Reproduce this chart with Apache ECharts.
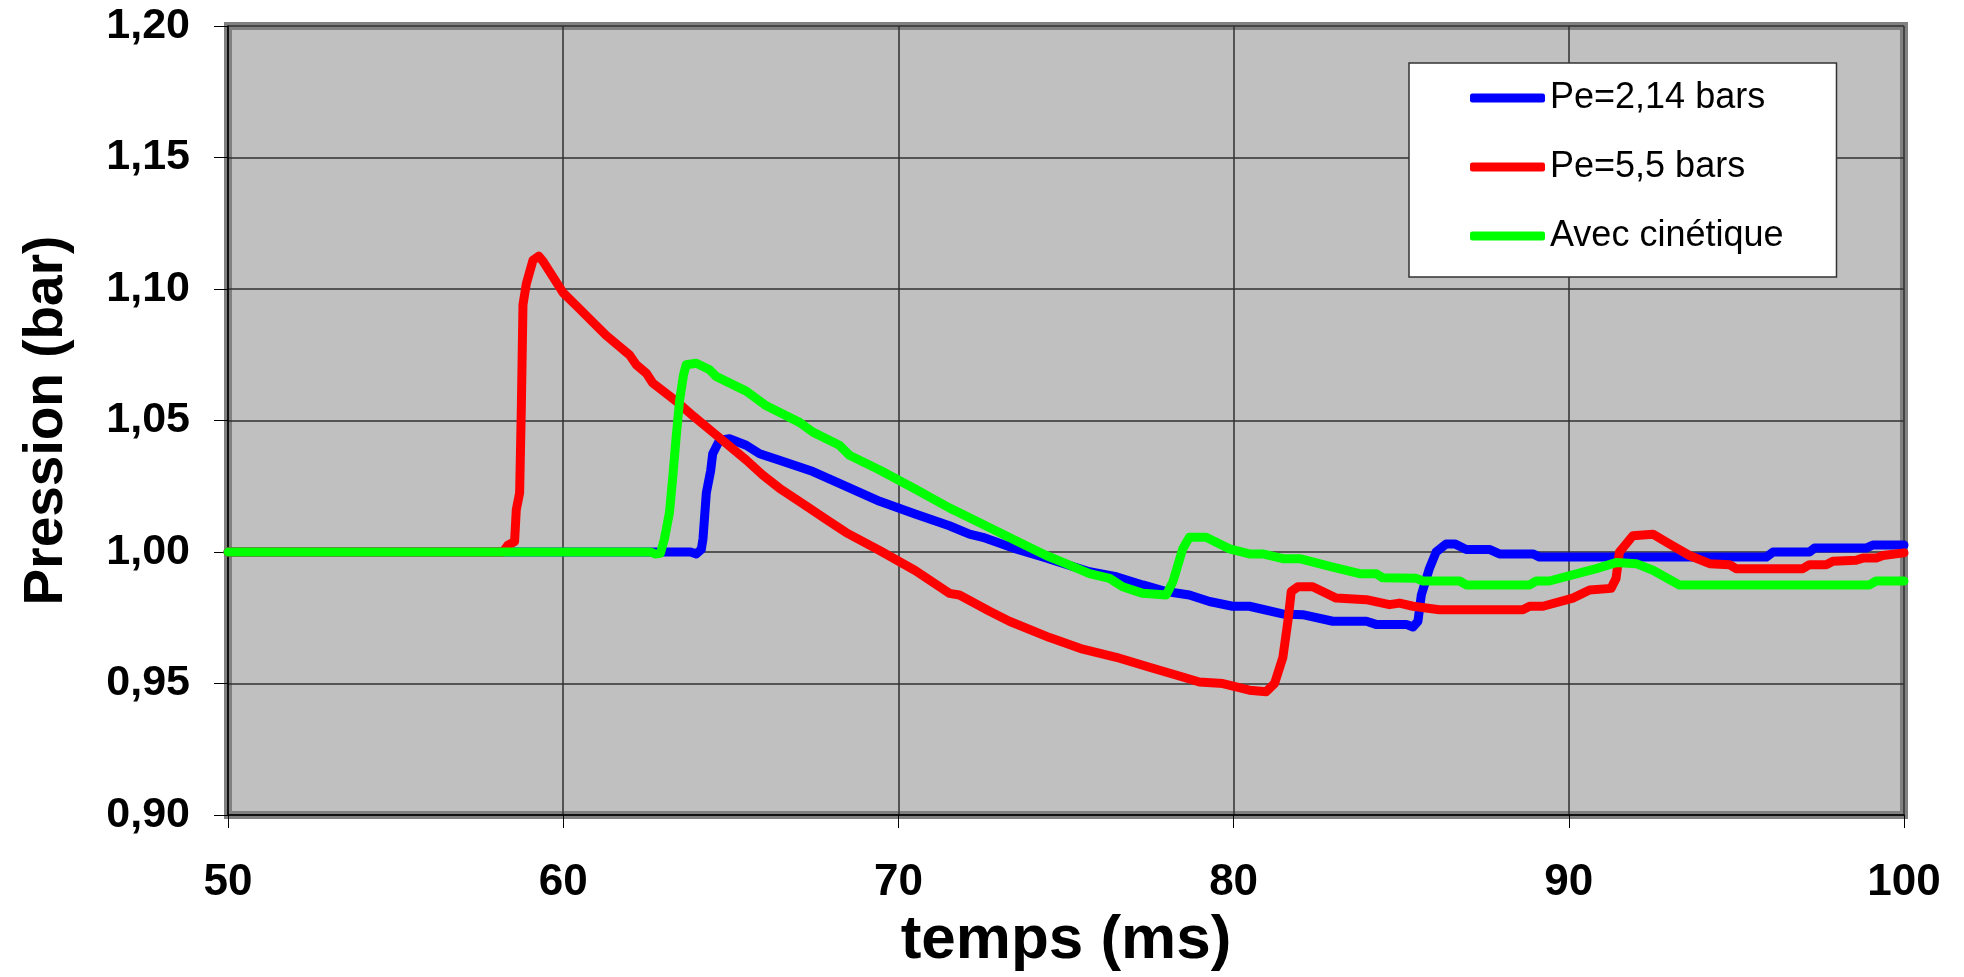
<!DOCTYPE html>
<html>
<head>
<meta charset="utf-8">
<script src="https://cdn.jsdelivr.net/npm/echarts@6/dist/echarts.min.js"></script>
<style>
  html, body { margin: 0; padding: 0; background: #fff; }
  #chart { width: 1964px; height: 977px; }
</style>
</head>
<body>
<div id="chart"></div>
<script>
// [temps (ms), pression (bar)]
const pe214 = [
  [50, 1.000], [63.8, 1.000], [63.97, 0.9993], [64.12, 1.001], [64.17, 1.005], [64.27, 1.0225],
  [64.4, 1.031], [64.46, 1.0374], [64.66, 1.0424], [64.96, 1.0431], [65.46, 1.0406], [65.86, 1.0374],
  [66.45, 1.0349], [67.45, 1.0306], [68.44, 1.025], [69.44, 1.0193], [70.5, 1.0145], [71.52, 1.01],
  [72.12, 1.0068], [72.52, 1.0056], [73.51, 1.0012], [74.31, 0.9981], [75.7, 0.9925], [76.5, 0.9906],
  [77.29, 0.9875], [77.99, 0.985], [78.68, 0.9837], [79.28, 0.9812], [79.97, 0.9794], [80.47, 0.9794],
  [81.46, 0.9765], [82.06, 0.9762], [82.96, 0.9737], [83.96, 0.9737], [84.25, 0.9725], [85.15, 0.9725],
  [85.35, 0.9715], [85.5, 0.9737], [85.6, 0.9837], [85.84, 0.9937], [86.04, 1.0], [86.34, 1.0031],
  [86.6, 1.0031], [86.94, 1.001], [87.63, 1.001], [87.93, 0.9993], [88.93, 0.9993], [89.13, 0.9981],
  [95.89, 0.9981], [96.09, 1.0], [97.18, 1.0], [97.33, 1.0015], [98.87, 1.0015], [99.07, 1.0027],
  [100, 1.0027]
]

const pe55 = [
  [50, 1.0], [58.2, 1.0], [58.34, 1.0025], [58.55, 1.004], [58.6, 1.016], [58.7, 1.0225],
  [58.75, 1.054], [58.8, 1.094], [58.9, 1.102], [59.1, 1.111], [59.27, 1.1125], [59.4, 1.1105],
  [59.99, 1.0987], [60.39, 1.0937], [61.28, 1.0824], [61.98, 1.0749], [62.18, 1.0712], [62.48, 1.068],
  [62.67, 1.0643], [63.37, 1.0574], [63.87, 1.0518], [64.46, 1.0456], [65.46, 1.035], [65.95, 1.0293],
  [66.45, 1.0243], [67.25, 1.0175], [67.85, 1.0124], [68.44, 1.0074], [69.44, 1.0006], [70.5, 0.993],
  [71.52, 0.9843], [71.82, 0.9837], [72.72, 0.9775], [73.31, 0.9737], [74.51, 0.9675], [75.5, 0.9631],
  [76.5, 0.96], [77.49, 0.9562], [78.48, 0.9525], [78.98, 0.9506], [79.68, 0.95], [80.47, 0.9475],
  [80.97, 0.9469], [81.22, 0.95], [81.47, 0.96], [81.62, 0.9737], [81.72, 0.985], [81.92, 0.9868],
  [82.36, 0.9868], [83.06, 0.9825], [83.96, 0.9819], [84.65, 0.98], [84.95, 0.9806], [85.35, 0.9794],
  [86.14, 0.9781], [88.63, 0.9781], [88.83, 0.9794], [89.23, 0.9794], [90.12, 0.9825], [90.62, 0.9856],
  [91.26, 0.9862], [91.41, 0.99], [91.51, 1.0], [91.91, 1.0062], [92.51, 1.0068], [93.0, 1.0031],
  [93.6, 0.9987], [94.2, 0.9956], [94.79, 0.9952], [94.99, 0.9937], [96.98, 0.9937], [97.18, 0.9952],
  [97.68, 0.9952], [97.88, 0.9965], [98.57, 0.9969], [98.77, 0.9977], [99.17, 0.9977], [99.37, 0.9987],
  [100, 0.9997]
]

const cinetique = [
  [50, 1.0], [62.6, 1.0], [62.75, 0.9993], [62.9, 0.9995], [63.02, 1.005], [63.17, 1.015],
  [63.27, 1.0287], [63.37, 1.0437], [63.47, 1.0574], [63.59, 1.0674], [63.67, 1.0712], [63.97, 1.0718],
  [64.37, 1.0693], [64.56, 1.0668], [65.46, 1.0612], [66.06, 1.0556], [67.05, 1.0493], [67.45, 1.0456],
  [68.24, 1.0406], [68.54, 1.0368], [69.44, 1.0312], [70.5, 1.024], [71.52, 1.0168], [72.32, 1.0118],
  [73.51, 1.0043], [74.41, 0.9987], [75.0, 0.9956], [75.7, 0.9918], [76.3, 0.99], [76.69, 0.9868],
  [77.29, 0.9843], [77.99, 0.9837], [78.19, 0.9887], [78.48, 1.0012], [78.68, 1.0056], [79.18, 1.0056],
  [79.88, 1.0012], [80.47, 0.9993], [80.87, 0.9993], [81.47, 0.9975], [81.97, 0.9975], [82.96, 0.9943],
  [83.76, 0.9918], [84.25, 0.9918], [84.45, 0.9902], [85.45, 0.99], [85.65, 0.989], [86.74, 0.989],
  [86.94, 0.9875], [88.83, 0.9875], [89.03, 0.989], [89.42, 0.989], [90.82, 0.9937], [91.41, 0.996],
  [92.01, 0.9956], [92.51, 0.9931], [93.3, 0.9875], [98.97, 0.9875], [99.17, 0.989], [100, 0.989]
]

const seriesNames = ['Pe=2,14 bars', 'Pe=5,5 bars', 'Avec cinétique']
const seriesColors = ['#0000ff', '#ff0000', '#00ff00']
const seriesData = [pe214, pe55, cinetique]

const FONT = '"Liberation Sans", Arial, sans-serif'

const chart = echarts.init(document.getElementById('chart'))

chart.setOption({
  animation: false,
  backgroundColor: '#fff',
  grid: {
    left: 228,
    right: 60,
    top: 26,
    bottom: 150,
    show: true,
    backgroundColor: '#c0c0c0',
    borderColor: '#808080',
    borderWidth: 8,
  },
  legend: {
    orient: 'vertical',
    left: 1409,
    top: 63,
    data: seriesNames,
    icon: 'roundRect',
    itemWidth: 75,
    itemHeight: 9,
    itemGap: 29,
    backgroundColor: '#fff',
    borderColor: '#333',
    borderWidth: 1.5,
    borderRadius: 0,
    padding: [15, 53, 21, 61],
    textStyle: {
      fontFamily: FONT,
      fontSize: 36,
      color: '#000',
      lineHeight: 40,
    },
  },
  xAxis: {
    type: 'value',
    min: 50,
    max: 100,
    interval: 10,
    name: 'temps (ms)',
    nameLocation: 'middle',
    nameGap: 91,
    nameTextStyle: { fontFamily: FONT, fontSize: 62, fontWeight: 'bold', color: '#000' },
    axisLine: { show: true, lineStyle: { color: '#000', width: 1.5 } },
    axisTick: { show: true, length: 13, lineStyle: { color: '#000', width: 1 } },
    axisLabel: { fontFamily: FONT, fontSize: 44, fontWeight: 'bold', color: '#000', margin: 46 },
    splitLine: { show: true, lineStyle: { color: '#303030', width: 1.5 } },
  },
  yAxis: {
    type: 'value',
    min: 0.9,
    max: 1.2,
    interval: 0.05,
    name: 'Pression (bar)',
    nameLocation: 'middle',
    nameGap: 154,
    nameTextStyle: { fontFamily: FONT, fontSize: 55, fontWeight: 'bold', color: '#000' },
    axisLine: { show: true, lineStyle: { color: '#000', width: 1.5 } },
    axisTick: { show: true, length: 14, lineStyle: { color: '#000', width: 1 } },
    axisLabel: {
      fontFamily: FONT,
      fontSize: 43,
      fontWeight: 'bold',
      color: '#000',
      margin: 38,
      formatter: (v) => v.toFixed(2).replace('.', ','),
    },
    splitLine: { show: true, lineStyle: { color: '#303030', width: 1.5 } },
  },
  series: seriesData.map((d, i) => ({
    name: seriesNames[i],
    type: 'line',
    data: d,
    showSymbol: false,
    color: seriesColors[i],
    lineStyle: { color: seriesColors[i], width: 9, cap: 'round', join: 'round' },
  })),
})
</script>
</body>
</html>
